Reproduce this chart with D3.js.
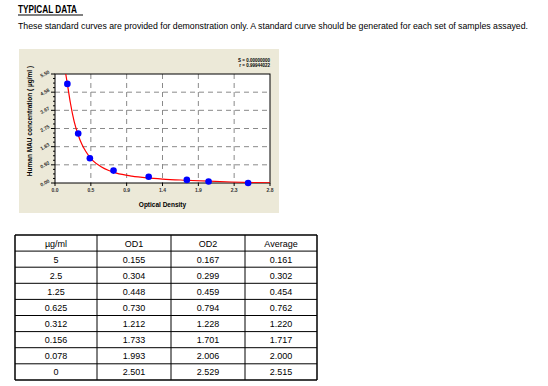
<!DOCTYPE html>
<html>
<head>
<meta charset="utf-8">
<script src="https://cdn.jsdelivr.net/npm/d3@7"></script>
<style>
  body { margin: 0; background: #fff; }
  text { font-family: "Liberation Sans", Arial, sans-serif; }
</style>
</head>
<body>
<div id="chart"></div>
<script>
// standard curve data
var conc = [5, 2.5, 1.25, 0.625, 0.312, 0.156, 0.078, 0];
var concLabels = ["5", "2.5", "1.25", "0.625", "0.312", "0.156", "0.078", "0"];
var od1 = ["0.155", "0.304", "0.448", "0.730", "1.212", "1.733", "1.993", "2.501"];
var od2 = ["0.167", "0.299", "0.459", "0.794", "1.228", "1.701", "2.006", "2.529"];
var avg = [0.161, 0.302, 0.454, 0.762, 1.220, 1.717, 2.000, 2.515];
var avgLabels = ["0.161", "0.302", "0.454", "0.762", "1.220", "1.717", "2.000", "2.515"];

// fitted curve
var curveOD = [0.14, 0.161, 0.2, 0.25, 0.3, 0.35, 0.4, 0.45, 0.5, 0.6, 0.7, 0.8, 1.0, 1.2, 1.4, 1.7, 2.0, 2.3, 2.6, 2.8];
var curveConc = [5.5, 5.0, 4.05, 3.1, 2.45, 1.95, 1.6, 1.32, 1.1, 0.82, 0.63, 0.5, 0.35, 0.26, 0.2, 0.14, 0.09, 0.05, 0.02, 0.01];

var xTicks = [0, 0.467, 0.933, 1.4, 1.867, 2.333, 2.8];
var xTickLabels = ["0.0", "0.5", "0.9", "1.4", "1.9", "2.3", "2.8"];
var yTicks = [0, 0.917, 1.833, 2.75, 3.667, 4.583, 5.5];
var yTickLabels = ["0.00", "0.92", "1.83", "2.75", "3.67", "4.58", "5.50"];

var headers = ["µg/ml", "OD1", "OD2", "Average"];

var width = 548, height = 386;

var svg = d3.select("#chart").append("svg")
  .attr("width", width)
  .attr("height", height);

// title
svg.append("text")
  .attr("x", 18).attr("y", 13)
  .attr("font-size", 10.5).attr("font-weight", "bold")
  .attr("textLength", 59).attr("lengthAdjust", "spacingAndGlyphs")
  .text("TYPICAL DATA");
svg.append("line")
  .attr("x1", 18).attr("x2", 83)
  .attr("y1", 15).attr("y2", 15)
  .attr("stroke", "#000").attr("stroke-width", 1);

svg.append("text")
  .attr("x", 18).attr("y", 29)
  .attr("font-size", 9)
  .attr("textLength", 510).attr("lengthAdjust", "spacingAndGlyphs")
  .text("These standard curves are provided for demonstration only. A standard curve should be generated for each set of samples assayed.");

// chart panel
svg.append("rect")
  .attr("x", 19).attr("y", 49)
  .attr("width", 260).attr("height", 164)
  .attr("fill", "#ECE9D8");

var plot = { left: 55, right: 270, top: 74, bottom: 183 };

var x = d3.scaleLinear().domain([0, 2.8]).range([plot.left, plot.right]);
var y = d3.scaleLinear().domain([0, 5.5]).range([plot.bottom, plot.top]);

svg.append("rect")
  .attr("x", plot.left).attr("y", plot.top)
  .attr("width", plot.right - plot.left).attr("height", plot.bottom - plot.top)
  .attr("fill", "#fff");

// dashed grid
svg.append("g")
  .selectAll("line")
  .data(xTicks.slice(1, -1))
  .join("line")
    .attr("x1", d => x(d)).attr("x2", d => x(d))
    .attr("y1", plot.top).attr("y2", plot.bottom)
    .attr("stroke", "#8a8a8a").attr("stroke-dasharray", "5,4");

svg.append("g")
  .selectAll("line")
  .data(yTicks.slice(1, -1))
  .join("line")
    .attr("x1", plot.left).attr("x2", plot.right)
    .attr("y1", d => y(d)).attr("y2", d => y(d))
    .attr("stroke", "#8a8a8a").attr("stroke-dasharray", "5,4");

// minor ticks on y axis
var yMinor = [];
for (var i = 0; i < yTicks.length - 1; i++) {
  for (var k = 1; k < 4; k++) yMinor.push(yTicks[i] + (yTicks[i + 1] - yTicks[i]) * k / 4);
}
svg.append("g")
  .selectAll("line")
  .data(yMinor)
  .join("line")
    .attr("x1", plot.left - 2).attr("x2", plot.left)
    .attr("y1", d => y(d)).attr("y2", d => y(d))
    .attr("stroke", "#000");

svg.append("g")
  .selectAll("line")
  .data(yTicks)
  .join("line")
    .attr("x1", plot.left - 4).attr("x2", plot.left)
    .attr("y1", d => y(d)).attr("y2", d => y(d))
    .attr("stroke", "#000");

svg.append("g")
  .selectAll("line")
  .data(xTicks)
  .join("line")
    .attr("x1", d => x(d)).attr("x2", d => x(d))
    .attr("y1", plot.bottom).attr("y2", plot.bottom + 3)
    .attr("stroke", "#000");

// frame
svg.append("rect")
  .attr("x", plot.left).attr("y", plot.top)
  .attr("width", plot.right - plot.left).attr("height", plot.bottom - plot.top)
  .attr("fill", "none").attr("stroke", "#000").attr("stroke-width", 1);

// tick labels
svg.append("g")
  .selectAll("text")
  .data(yTicks)
  .join("text")
    .attr("transform", d => "translate(" + (plot.left - 5) + "," + (y(d) - 1) + ") rotate(-30)")
    .attr("text-anchor", "end")
    .attr("font-size", 5).attr("font-weight", "bold").attr("fill", "#333")
    .text((d, i) => yTickLabels[i]);

svg.append("g")
  .selectAll("text")
  .data(xTicks)
  .join("text")
    .attr("x", d => x(d)).attr("y", plot.bottom + 9)
    .attr("text-anchor", "middle")
    .attr("font-size", 5).attr("font-weight", "bold").attr("fill", "#333")
    .text((d, i) => xTickLabels[i]);

// axis titles
svg.append("text")
  .attr("x", (plot.left + plot.right) / 2).attr("y", 207)
  .attr("text-anchor", "middle")
  .attr("font-size", 6.5).attr("font-weight", "bold")
  .text("Optical Density");

svg.append("text")
  .attr("transform", "translate(32,121) rotate(-90)")
  .attr("text-anchor", "middle")
  .attr("font-size", 6.5).attr("font-weight", "bold")
  .text("Human MAU concentration ( µg/ml )");

// fit statistics
svg.append("text")
  .attr("x", 270).attr("y", 62)
  .attr("text-anchor", "end")
  .attr("font-size", 4.5).attr("font-weight", "bold")
  .text("S = 0.00000000");
svg.append("text")
  .attr("x", 270).attr("y", 67)
  .attr("text-anchor", "end")
  .attr("font-size", 4.5).attr("font-weight", "bold")
  .text("r = 0.99944022");

// curve
var clip = svg.append("clipPath").attr("id", "clip")
  .append("rect")
  .attr("x", plot.left).attr("y", plot.top)
  .attr("width", plot.right - plot.left).attr("height", plot.bottom - plot.top);

var line = d3.line()
  .x((d, i) => x(curveOD[i]))
  .y(d => y(d))
  .curve(d3.curveMonotoneX);

svg.append("path")
  .attr("d", line(curveConc))
  .attr("clip-path", "url(#clip)")
  .attr("fill", "none")
  .attr("stroke", "#ff0000")
  .attr("stroke-width", 1.2);

// points
svg.append("g")
  .selectAll("circle")
  .data(conc)
  .join("circle")
    .attr("cx", (d, i) => x(avg[i]))
    .attr("cy", d => y(d))
    .attr("r", 3.3)
    .attr("fill", "#0000ff");

// table
var tbl = { left: 15, top: 235, rowH: 16.1 };
var colX = [15, 97, 171, 245, 317];
var nRows = conc.length + 1;

var rows = [headers];
for (var r = 0; r < conc.length; r++) {
  rows.push([concLabels[r], od1[r], od2[r], avgLabels[r]]);
}

var tg = svg.append("g");

tg.selectAll(".hline")
  .data(d3.range(nRows + 1))
  .join("line")
    .attr("x1", colX[0]).attr("x2", colX[4])
    .attr("y1", d => tbl.top + d * tbl.rowH).attr("y2", d => tbl.top + d * tbl.rowH)
    .attr("stroke", "#000")
    .attr("stroke-width", (d) => (d == 0 || d == nRows) ? 1.5 : 1);

tg.selectAll(".vline")
  .data(colX)
  .join("line")
    .attr("x1", d => d).attr("x2", d => d)
    .attr("y1", tbl.top).attr("y2", tbl.top + nRows * tbl.rowH)
    .attr("stroke", "#000")
    .attr("stroke-width", (d, i) => (i == 0 || i == 4) ? 1.5 : 1);

rows.forEach(function(row, ri) {
  row.forEach(function(cell, ci) {
    tg.append("text")
      .attr("x", (colX[ci] + colX[ci + 1]) / 2)
      .attr("y", tbl.top + ri * tbl.rowH + 11.5)
      .attr("text-anchor", "middle")
      .attr("font-size", 9)
      .text(cell);
  });
});
</script>
</body>
</html>
